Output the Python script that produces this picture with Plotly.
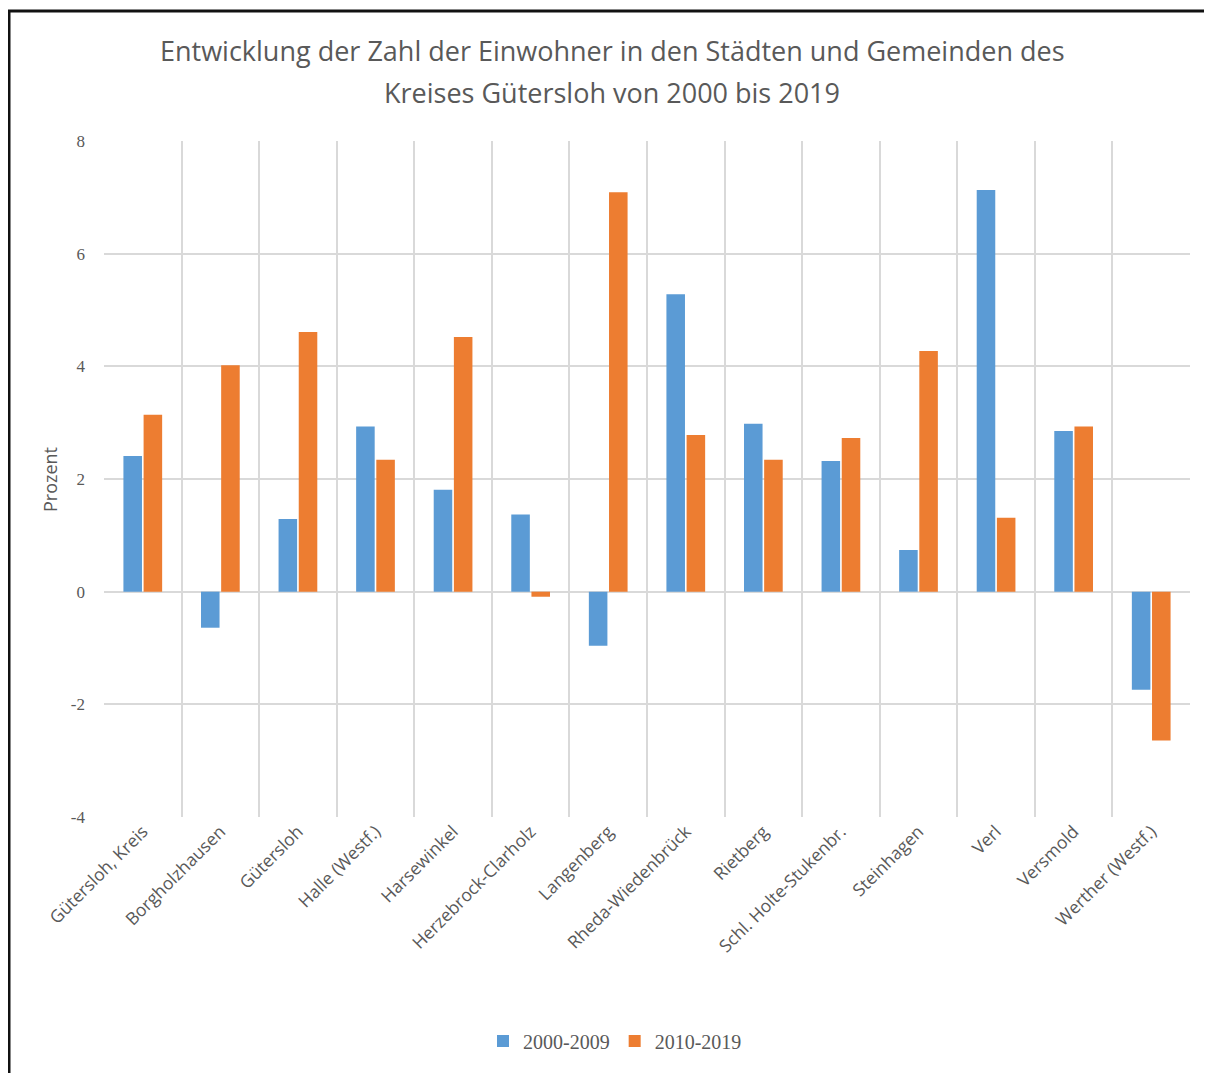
import plotly.graph_objects as go

categories = ["Gütersloh, Kreis", "Borgholzhausen", "Gütersloh", "Halle (Westf.)", "Harsewinkel",
              "Herzebrock-Clarholz", "Langenberg", "Rheda-Wiedenbrück", "Rietberg",
              "Schl. Holte-Stukenbr.", "Steinhagen", "Verl", "Versmold", "Werther (Westf.)"]
series_2000_2009 = [2.41, -0.64, 1.29, 2.93, 1.81, 1.37, -0.96, 5.28, 2.98, 2.32, 0.74, 7.13, 2.85, -1.74]
series_2010_2019 = [3.14, 4.02, 4.61, 2.34, 4.52, -0.09, 7.09, 2.78, 2.34, 2.73, 4.27, 1.31, 2.93, -2.64]
y_ticks = [-4, -2, 0, 2, 4, 6, 8]
y_tick_labels = ["-4", "-2", "0", "2", "4", "6", "8"]
title_lines = ["Entwicklung der Zahl der Einwohner in den Städten und Gemeinden des",
               "Kreises Gütersloh von 2000 bis 2019"]

# page body has an 8px margin; figure sized to fill the rest of the window
OFF = 8
W, H = 1212 - OFF, 1073 - OFF
L, R, T, B = 104 - OFF, 22, 141 - OFF, 256
PW, PH = W - L - R, H - T - B

def px_x(x):  # figure pixel -> paper x
    return (x - L) / PW

def px_y(y):  # figure pixel (from top) -> paper y
    return 1 - (y - T) / PH

fig = go.Figure()
fig.add_trace(go.Bar(name="2000-2009", x=categories, y=series_2000_2009, marker_color="#5B9BD5",
                     marker_line_width=0))
fig.add_trace(go.Bar(name="2010-2019", x=categories, y=series_2010_2019, marker_color="#ED7D31",
                     marker_line_width=0))

font = "Open Sans, Noto Sans, sans-serif"
grey = "#595959"
fig.update_layout(
    width=W, height=H,
    margin=dict(l=L, r=R, t=T, b=B, autoexpand=False),
    paper_bgcolor="white", plot_bgcolor="white",
    barmode="group", bargap=0.48, bargroupgap=0.08,
    legend=dict(orientation="h", x=px_x(615 - OFF), xanchor="center", xref="paper",
                y=px_y(1041 - OFF), yanchor="middle",
                font=dict(family="Liberation Serif, serif", size=20, color=grey),
                itemwidth=30, traceorder="normal"),
    showlegend=True,
)
for i, line in enumerate(title_lines):
    fig.add_annotation(text=line, xref="paper", yref="paper", x=px_x(612 - OFF),
                       y=px_y([50, 92][i] - OFF), xanchor="center", yanchor="middle",
                       showarrow=False, font=dict(family=font, size=27, color=grey))
fig.add_annotation(text="Prozent", xref="paper", yref="paper", x=px_x(50 - OFF),
                   y=px_y(480 - OFF), xanchor="center", yanchor="middle", textangle=-90,
                   showarrow=False, font=dict(family=font, size=18, color=grey))
fig.update_xaxes(
    type="category", tickson="boundaries", showgrid=True, gridcolor="#D9D9D9", gridwidth=1.5,
    tickangle=-45, tickfont=dict(family=font, size=17.5, color=grey),
    showline=False, zeroline=False, ticks="", mirror=False,
)
fig.update_yaxes(
    range=[-4, 8], tickvals=y_ticks, ticktext=y_tick_labels, showgrid=True, gridcolor="#D9D9D9",
    gridwidth=1.5, zeroline=False, showline=False, ticks="", ticklabelstandoff=18,
    tickfont=dict(family="Liberation Serif, serif", size=17, color=grey),
)
# outer frame lines (left and top), as in the reference screenshot
fig.add_shape(type="line", xref="paper", yref="paper",
              x0=px_x(1), x1=px_x(1), y0=px_y(2), y1=px_y(H + 5),
              line=dict(color="#111111", width=3))
fig.add_shape(type="line", xref="paper", yref="paper",
              x0=px_x(0), x1=px_x(W + 5), y0=px_y(3), y1=px_y(3),
              line=dict(color="#111111", width=3))

fig.write_html("out.html")
